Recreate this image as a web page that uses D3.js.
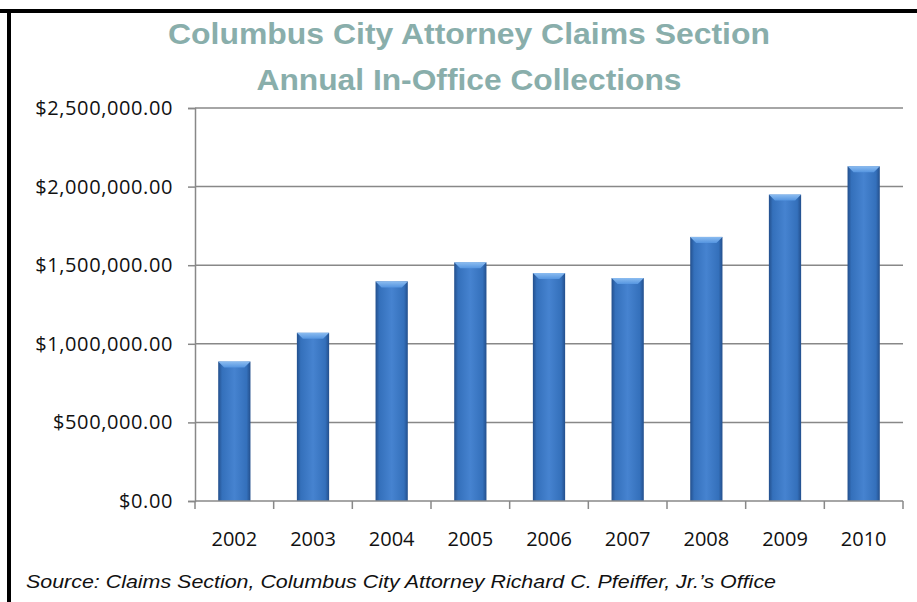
<!DOCTYPE html>
<html>
<head>
<meta charset="utf-8">
<script src="https://cdn.jsdelivr.net/npm/d3@7"></script>
<style>
  body { margin: 0; background: #fff; }
  svg { display: block; }
</style>
</head>
<body>
<div id="vis"></div>
<script>
const width = 917
const height = 602

// data
const years = ["2002", "2003", "2004", "2005", "2006", "2007", "2008", "2009", "2010"]
const collections = [887000, 1070000, 1397000, 1518000, 1450000, 1418000, 1680000, 1949000, 2129000]
const yTicks = [0, 500000, 1000000, 1500000, 2000000, 2500000]
const titleLines = ["Columbus City Attorney Claims Section", "Annual In-Office Collections"]
const source = "Source: Claims Section, Columbus City Attorney Richard C. Pfeiffer, Jr.\u2019s Office"

const margin = { top: 108, right: 14, bottom: 100, left: 195 }

var svg = d3.select("#vis")
    .append("svg")
    .attr("width", width)
    .attr("height", height)

var defs = svg.append("defs")
var grad = defs.append("linearGradient").attr("id", "barGrad")
    .attr("x1", "0%").attr("x2", "100%").attr("y1", "0%").attr("y2", "0%")
grad.append("stop").attr("offset", "0%").attr("stop-color", "#234f8c")
grad.append("stop").attr("offset", "12%").attr("stop-color", "#3470bb")
grad.append("stop").attr("offset", "50%").attr("stop-color", "#4683d0")
grad.append("stop").attr("offset", "88%").attr("stop-color", "#3470bb")
grad.append("stop").attr("offset", "100%").attr("stop-color", "#234f8c")

var topGrad = defs.append("linearGradient").attr("id", "topGrad")
    .attr("x1", "0%").attr("x2", "0%").attr("y1", "0%").attr("y2", "100%")
topGrad.append("stop").attr("offset", "0%").attr("stop-color", "#8bbcf0")
topGrad.append("stop").attr("offset", "100%").attr("stop-color", "#5595e0")

// frame: thick top and left black lines
svg.append("rect").attr("x", 0).attr("y", 9).attr("width", width).attr("height", 4).attr("fill", "#000")
svg.append("rect").attr("x", 7).attr("y", 9).attr("width", 4).attr("height", height - 9).attr("fill", "#000")

var x = d3.scaleBand()
    .domain(years)
    .range([margin.left, width - margin.right])
    .paddingInner(0.59)
    .paddingOuter(0.295)

var y = d3.scaleLinear()
    .domain([0, 2500000])
    .range([height - margin.bottom - 1, margin.top])

var fmt = d3.format("$,.2f")
const labelFont = "'Open Sans', sans-serif"

// y axis with tick labels
var yAxis = svg.append("g")
    .attr("transform", `translate(${margin.left},0)`)
    .call(d3.axisLeft(y).tickValues(yTicks).tickSize(7).tickPadding(15).tickFormat(fmt))
yAxis.select(".domain").attr("stroke", "#888").attr("stroke-width", 1.5)
yAxis.selectAll(".tick line").attr("stroke", "#888").attr("stroke-width", 1.5)
yAxis.selectAll(".tick text")
    .attr("font-family", labelFont)
    .attr("font-size", "20px")
    .attr("letter-spacing", "0.6px")
    .attr("fill", "#111")

// gridlines
svg.append("g")
    .selectAll("line")
    .data(yTicks.filter(d => d > 0))
    .join("line")
    .attr("x1", margin.left)
    .attr("x2", width - margin.right)
    .attr("y1", d => y(d))
    .attr("y2", d => y(d))
    .attr("stroke", "#888")
    .attr("stroke-width", 1.5)

// bars
var bars = svg.append("g")
    .selectAll("g")
    .data(years.map((yr, i) => ({ year: yr, value: collections[i] })))
    .join("g")

bars.append("rect")
    .attr("x", d => x(d.year))
    .attr("y", d => y(d.value))
    .attr("width", x.bandwidth())
    .attr("height", d => y(0) - y(d.value))
    .attr("fill", "url(#barGrad)")

// bevelled top
bars.append("path")
    .attr("d", d => {
        const x0 = x(d.year), x1 = x0 + x.bandwidth(), t = y(d.value), b = 6
        return `M${x0},${t}L${x1},${t}L${x1 - b},${t + b}L${x0 + b},${t + b}Z`
    })
    .attr("fill", "url(#topGrad)")

// x axis labels
var xAxis = svg.append("g")
    .attr("transform", `translate(0,${y(0)})`)
    .call(d3.axisBottom(x).tickSize(0).tickPadding(31))
xAxis.select(".domain").remove()
xAxis.selectAll(".tick text")
    .attr("font-family", labelFont)
    .attr("font-size", "20px")
    .attr("fill", "#111")

svg.append("line")
    .attr("x1", margin.left).attr("x2", width - margin.right)
    .attr("y1", y(0)).attr("y2", y(0))
    .attr("stroke", "#888").attr("stroke-width", 1.5)

// tick marks between categories
var step = x.step()
svg.append("g")
    .selectAll("line")
    .data(d3.range(years.length + 1))
    .join("line")
    .attr("x1", i => margin.left + i * step)
    .attr("x2", i => margin.left + i * step)
    .attr("y1", y(0))
    .attr("y2", y(0) + 8)
    .attr("stroke", "#888")
    .attr("stroke-width", 1.5)

// title
const titleWidths = [602, 425]
svg.append("g")
    .selectAll("text")
    .data(titleLines)
    .join("text")
    .attr("x", 469)
    .attr("y", (d, i) => 44 + i * 46)
    .attr("text-anchor", "middle")
    .attr("font-family", "Arial, 'Liberation Sans', sans-serif")
    .attr("font-weight", "bold")
    .attr("font-size", "29.5px")
    .attr("textLength", (d, i) => titleWidths[i])
    .attr("lengthAdjust", "spacingAndGlyphs")
    .attr("fill", "#89aeab")
    .text(d => d)

svg.append("text")
    .attr("x", 26)
    .attr("y", 588)
    .attr("font-family", "Arial, 'Liberation Sans', sans-serif")
    .attr("font-style", "italic")
    .attr("font-size", "19px")
    .attr("textLength", 750)
    .attr("lengthAdjust", "spacingAndGlyphs")
    .attr("fill", "#111")
    .text(source)
</script>
</body>
</html>
